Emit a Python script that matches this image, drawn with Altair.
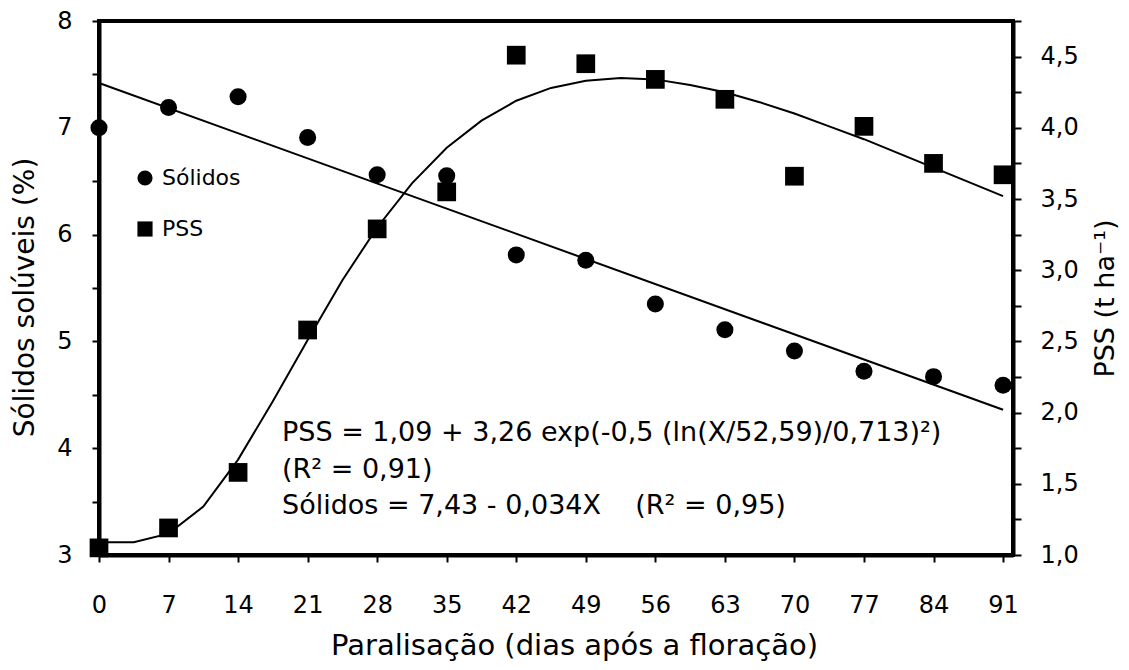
import altair as alt
import pandas as pd

# ---- data ----
dias = [0, 7, 14, 21, 28, 35, 42, 49, 56, 63, 70, 77, 84, 91]
solidos = [7.00, 7.19, 7.29, 6.91, 6.56, 6.55, 5.81, 5.76, 5.35, 5.11, 4.91, 4.72, 4.67, 4.59]
pss = [1.05, 1.19, 1.58, 2.58, 3.29, 3.55, 4.51, 4.45, 4.34, 4.20, 3.66, 4.01, 3.75, 3.67]

# fitted straight line for Sólidos (end points)
reta_x = [0, 91]
reta_y = [7.42, 4.36]

# fitted curve for PSS
curva_x = [0, 3.5, 7, 10.5, 14, 17.5, 21, 24.5, 28, 31.5, 35, 38.5, 42, 45.5,
           49, 52.5, 56, 59.5, 63, 66.5, 70, 73.5, 77, 80.5, 84, 87.5, 91]
curva_y = [1.09, 1.09, 1.15, 1.34, 1.67, 2.08, 2.51, 2.93, 3.30, 3.61, 3.86, 4.05,
           4.19, 4.28, 4.33, 4.35, 4.34, 4.30, 4.25, 4.18, 4.10, 4.01, 3.92, 3.82,
           3.72, 3.62, 3.52]

series = ["Sólidos", "PSS"]
ticks_x = dias
ticks_left = [3, 3.5, 4, 4.5, 5, 5.5, 6, 6.5, 7, 7.5, 8]
ticks_right = [1.0, 1.25, 1.5, 1.75, 2.0, 2.25, 2.5, 2.75, 3.0, 3.25, 3.5, 3.75, 4.0, 4.25, 4.5, 4.75]

NB = "\u00a0"
eq1 = "PSS = 1,09 + 3,26 exp(-0,5 (ln(X/52,59)/0,713)²)"
eq2 = "(R² = 0,91)"
eq3 = "Sólidos = 7,43 - 0,034X" + NB * 4 + "(R² = 0,95)"

FONT = "DejaVu Sans"

df_sol = pd.DataFrame({"dia": dias, "valor": solidos, "serie": series[0]})
df_pss = pd.DataFrame({"dia": dias, "valor": pss, "serie": series[1]})
df_reta = pd.DataFrame({"dia": reta_x, "valor": reta_y})
df_curva = pd.DataFrame({"dia": curva_x, "valor": curva_y})

x_enc = alt.X(
    "dia:Q",
    scale=alt.Scale(domain=[0, 92], nice=False, zero=False),
    axis=alt.Axis(
        values=ticks_x,
        title="Paralisação (dias após a floração)",
        titleFont=FONT, titleFontSize=29, titleFontWeight="normal",
        titleX=475, titleY=99, titleAlign="center", titleBaseline="alphabetic",
        labelFont=FONT, labelFontSize=24, labelBaseline="alphabetic",
        labelPadding=50, labelFlush=False, labelOverlap=False,
        tickSize=7, tickWidth=2, domainWidth=4,
    ),
)

shape_enc = alt.Shape(
    "serie:N",
    scale=alt.Scale(domain=series, range=["circle", "square"]),
    legend=alt.Legend(
        title=None, orient="none", legendX=35, legendY=146,
        labelFont=FONT, labelFontSize=22, labelColor="black",
        symbolSize=230, symbolFillColor="black", symbolStrokeColor="black",
        symbolStrokeWidth=0, symbolOpacity=1, rowPadding=29, labelOffset=6,
        padding=0,
    ),
)

y_left_scale = alt.Scale(domain=[3, 8], nice=False, zero=False)
y_left_axis = alt.Axis(
    values=ticks_left,
    labelExpr="datum.value % 1 == 0 ? format(datum.value, 'd') : ''",
    title="Sólidos solúveis (%)",
    titleFont=FONT, titleFontSize=28, titleFontWeight="normal",
    titleAngle=270, titleX=-74, titleY=276, titleAlign="center", titleBaseline="middle",
    labelFont=FONT, labelFontSize=24, labelPadding=20, labelFlush=False,
    labelOverlap=False, tickSize=7, tickWidth=2, domainWidth=4,
)

y_right_scale = alt.Scale(domain=[1.0, 4.75], nice=False, zero=False)
y_right_axis = alt.Axis(
    orient="right",
    values=ticks_right,
    labelExpr="datum.value % 0.5 == 0 && datum.value < 4.7 ? replace(format(datum.value, '.1f'), '.', ',') : ''",
    title="PSS (t ha⁻¹)",
    titleFont=FONT, titleFontSize=27, titleFontWeight="normal",
    titleAngle=270, titleX=92, titleY=277, titleAlign="center", titleBaseline="middle",
    labelFont=FONT, labelFontSize=24, labelPadding=19, labelFlush=False,
    labelOverlap=False, tickSize=8, tickWidth=2, domainWidth=4,
)

# left-axis layer: Sólidos
sol_line = alt.Chart(df_reta).mark_line(color="black", strokeWidth=2).encode(
    x=x_enc, y=alt.Y("valor:Q", scale=y_left_scale, axis=y_left_axis)
)
sol_pts = alt.Chart(df_sol).mark_point(filled=True, color="black", opacity=1, size=290).encode(
    x=x_enc, y=alt.Y("valor:Q", scale=y_left_scale, axis=y_left_axis), shape=shape_enc
)
left = alt.layer(sol_line, sol_pts)

# right-axis layer: PSS
pss_line = alt.Chart(df_curva).mark_line(color="black", strokeWidth=2).encode(
    x=x_enc, y=alt.Y("valor:Q", scale=y_right_scale, axis=y_right_axis)
)
pss_pts = alt.Chart(df_pss).mark_point(filled=True, color="black", opacity=1, size=350).encode(
    x=x_enc, y=alt.Y("valor:Q", scale=y_right_scale, axis=y_right_axis), shape=shape_enc
)
right = alt.layer(pss_line, pss_pts)

def label(txt, ypix):
    return alt.Chart(pd.DataFrame({"t": [txt]})).mark_text(
        align="left", baseline="middle", font=FONT, fontSize=27, color="black"
    ).encode(x=alt.value(183), y=alt.value(ypix), text="t:N")

chart = alt.layer(
    left, right, label(eq1, 412), label(eq2, 449), label(eq3, 485)
).resolve_scale(
    y="independent"
).properties(
    width=914, height=534,
    autosize=alt.AutoSizeParams(type="none"),
    padding={"left": 91, "top": 13, "right": 108, "bottom": 106},
).configure_view(
    stroke="black", strokeWidth=4
).configure_axis(
    grid=False, domainColor="black", tickColor="black", labelColor="black", titleColor="black"
)

chart.save("out.html", embed_options={"renderer": "svg", "actions": False})
